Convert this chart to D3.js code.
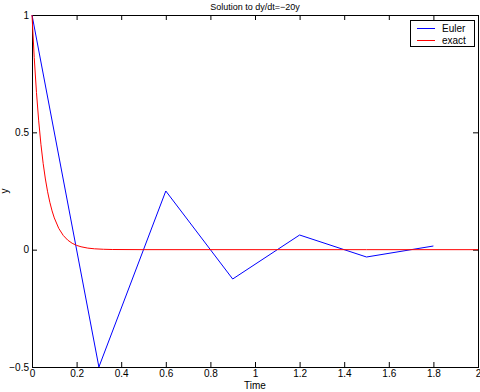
<!DOCTYPE html>
<html><head><meta charset="utf-8">
<script src="https://cdn.jsdelivr.net/npm/d3@7"></script>
<style>body{margin:0;background:#fff}svg{display:block}text{font-family:"Liberation Sans",Arial,sans-serif}</style>
</head><body><svg id="c" width="480" height="392"></svg>
<script>
const eulerT = [0, 0.3, 0.6, 0.9, 1.2, 1.5, 1.8];
const eulerY = [1, -0.5, 0.25, -0.125, 0.0625, -0.03125, 0.015625];
const exactT = [0, 0.01, 0.02, 0.03, 0.04, 0.05, 0.06, 0.07, 0.08, 0.09, 0.10, 0.12, 0.14, 0.16, 0.18, 0.20, 0.22, 0.25, 0.28, 0.32, 0.36, 0.5, 1, 1.5, 2];
const exactY = [1, 0.8187, 0.6703, 0.5488, 0.4493, 0.3679, 0.3012, 0.2466, 0.2019, 0.1653, 0.1353, 0.0907, 0.0608, 0.0408, 0.0273, 0.0183, 0.0123, 0.0067, 0.0037, 0.0017, 0.0007, 0.00005, 0, 0, 0];
const xTicks = [0, 0.2, 0.4, 0.6, 0.8, 1, 1.2, 1.4, 1.6, 1.8, 2];
const yTicks = [-0.5, 0, 0.5, 1];
const seriesNames = ["Euler", "exact"];
const seriesColors = ["#0000ff", "#ff0000"];

const L = 32, R = 478, T = 15, B = 367;
const svg = d3.select("#c");
const x = d3.scaleLinear().domain([0, 2]).range([L, R]);
const y = d3.scaleLinear().domain([-0.5, 1]).range([B, T]);
const fmt = d => d === -0.5 ? "\u22120.5" : String(d);

function styleAxis(g){
  g.select(".domain").remove();
  g.selectAll("line").attr("stroke", "#000");
  g.selectAll("text").attr("font-size", 10).attr("fill", "#000");
}
svg.append("g").attr("transform", `translate(0,${B})`)
  .call(d3.axisBottom(x).tickValues(xTicks).tickFormat(fmt).tickSizeInner(-5).tickSizeOuter(0).tickPadding(3)).call(styleAxis);
svg.append("g").attr("transform", `translate(0,${T})`)
  .call(d3.axisTop(x).tickValues(xTicks).tickFormat("").tickSizeInner(-5).tickSizeOuter(0)).call(styleAxis);
svg.append("g").attr("transform", `translate(${L},0)`)
  .call(d3.axisLeft(y).tickValues(yTicks).tickFormat(fmt).tickSizeInner(-5).tickSizeOuter(0).tickPadding(3)).call(styleAxis);
svg.append("g").attr("transform", `translate(${R},0)`)
  .call(d3.axisRight(y).tickValues(yTicks).tickFormat("").tickSizeInner(-5).tickSizeOuter(0)).call(styleAxis);

svg.append("rect").attr("x", L + 0.5).attr("y", T + 0.5).attr("width", R - L).attr("height", B - T)
  .attr("fill", "none").attr("stroke", "#000");

const line = d3.line().x(d => x(d[0])).y(d => y(d[1]));
svg.append("path").datum(eulerT.map((t, i) => [t, eulerY[i]])).attr("d", line)
  .attr("fill", "none").attr("stroke", seriesColors[0]).attr("stroke-width", 1);
svg.append("path").datum(exactT.map((t, i) => [t, exactY[i]])).attr("d", line)
  .attr("fill", "none").attr("stroke", seriesColors[1]).attr("stroke-width", 1);

svg.append("text").attr("x", (L + R) / 2).attr("y", 10).attr("text-anchor", "middle")
  .attr("font-size", 9).text("Solution to dy/dt=\u221220y");
svg.append("text").attr("x", (L + R) / 2).attr("y", 389).attr("text-anchor", "middle")
  .attr("font-size", 10).text("Time");
svg.append("text").attr("transform", `translate(8,${(T + B) / 2}) rotate(-90)`).attr("text-anchor", "middle")
  .attr("font-size", 10).text("y");

const lg = svg.append("g");
lg.append("rect").attr("x", 410.5).attr("y", 20.5).attr("width", 64).attr("height", 26)
  .attr("fill", "#fff").attr("stroke", "#000");
seriesNames.forEach((n, i) => {
  const yy = 28 + i * 12;
  lg.append("line").attr("x1", 417).attr("x2", 435).attr("y1", yy + 0.5).attr("y2", yy + 0.5)
    .attr("stroke", seriesColors[i]);
  lg.append("text").attr("x", 442).attr("y", yy + 4).attr("font-size", 10).text(n);
});
</script></body></html>
